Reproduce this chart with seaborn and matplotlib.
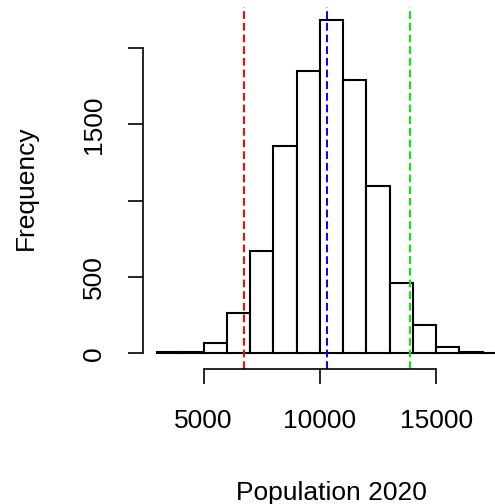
import numpy as np
import matplotlib
matplotlib.use("Agg")
import matplotlib.pyplot as plt
import seaborn as sns

# histogram bins (width 1000) and counts
bin_edges = [3000, 4000, 5000, 6000, 7000, 8000, 9000, 10000, 11000,
             12000, 13000, 14000, 15000, 16000, 17000, 18000]
counts = [6, 10, 70, 262, 671, 1355, 1851, 2181, 1792, 1097, 459, 186, 44, 10, 2]

# reference lines
lower_q = 6745
mean_val = 10296
upper_q = 13870

x_ticks = [5000, 10000, 15000]
y_ticks = [0, 500, 1000, 1500, 2000]
y_labels = ["0", "500", "", "1500", ""]

sns.set_style("white")
plt.rcParams["font.family"] = ["Liberation Sans", "DejaVu Sans"]

mids = [(a + b) / 2 for a, b in zip(bin_edges[:-1], bin_edges[1:])]

fig = plt.figure(figsize=(4.95, 5.04), dpi=100)
ax = fig.add_axes([143 / 495, 135 / 504, 377 / 495, 362 / 504])

sns.histplot(x=mids, weights=counts, bins=bin_edges, ax=ax, stat="count",
             color="white", edgecolor="black", linewidth=1.5, alpha=1)

dash = (4, 2)
ax.axvline(lower_q, color="#ff0000", lw=1.4, dashes=dash)
ax.axvline(mean_val, color="#0000ff", lw=1.4, dashes=dash)
ax.axvline(upper_q, color="#00ee00", lw=1.4, dashes=dash)

ax.set_xlim(2400, 18600)
ax.set_ylim(-103, 2268)

for s in ["top", "right"]:
    ax.spines[s].set_visible(False)
ax.spines["left"].set_bounds(0, 2000)
ax.spines["bottom"].set_bounds(5000, 15000)
for s in ["left", "bottom"]:
    ax.spines[s].set_linewidth(1.2)
    ax.spines[s].set_color("black")

ax.set_xticks(x_ticks)
ax.set_xticklabels([str(t) for t in x_ticks])
ax.set_yticks(y_ticks)
ax.set_yticklabels(y_labels, rotation=90, va="center")
ax.tick_params(axis="both", bottom=True, left=True, direction="out",
               length=10.5, width=1.2, labelsize=19, colors="black")
ax.tick_params(axis="x", pad=18)
ax.tick_params(axis="y", pad=16)

ax.set_xlabel("Population 2020", fontsize=19, labelpad=35, color="black")
ax.set_ylabel("Frequency", fontsize=19, labelpad=32, color="black")

fig.savefig("out.png", dpi=100)
